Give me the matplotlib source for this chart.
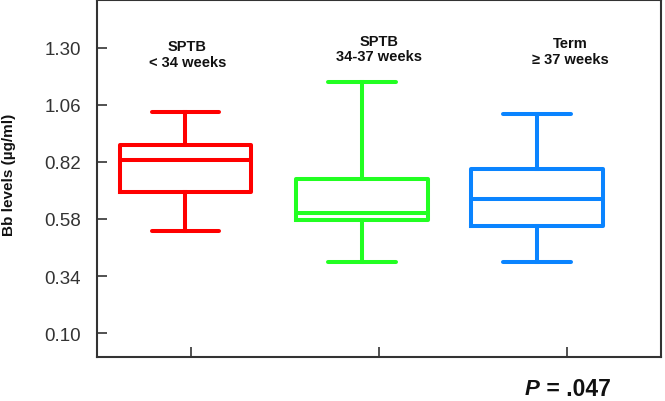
import matplotlib
matplotlib.use("Agg")
import matplotlib.pyplot as plt

plt.rcParams["font.family"] = ["Liberation Sans", "DejaVu Sans"]

# box statistics (ug/ml)
groups = ["SPTB\n< 34 weeks", "SPTB\n34-37 weeks", "Term\n\u2265 37 weeks"]
whislo = [0.531, 0.400, 0.398]
q1 = [0.695, 0.577, 0.549]
med = [0.828, 0.605, 0.664]
q3 = [0.889, 0.746, 0.788]
whishi = [1.029, 1.156, 1.022]
colors = ["#ff0000", "#22ff22", "#0a84ff"]

yticks = [0.10, 0.34, 0.58, 0.82, 1.06, 1.30]
positions = [0.97, 1.91, 2.84]
label_x = [0.98, 2.0, 3.02]
label_y = [1.273, 1.296, 1.285]
p_text = ".047"

fig = plt.figure(figsize=(6.65, 4.02), dpi=100)
ax = fig.add_axes([0.1459, 0.1095, 0.848, 0.888])

stats = []
for i in range(len(groups)):
    stats.append({"whislo": whislo[i], "q1": q1[i], "med": med[i],
                  "q3": q3[i], "whishi": whishi[i], "fliers": []})

for i, s in enumerate(stats):
    c = colors[i]
    ax.bxp([s], positions=[positions[i]], widths=0.70, capwidths=0.36,
           showfliers=False,
           boxprops=dict(color=c, linewidth=2.9, solid_joinstyle="round"),
           medianprops=dict(color=c, linewidth=2.9, solid_capstyle="butt"),
           whiskerprops=dict(color=c, linewidth=2.9),
           capprops=dict(color=c, linewidth=2.9, solid_capstyle="round"))
    ax.text(label_x[i], label_y[i], groups[i], ha="center", va="center",
            fontsize=10.5, fontweight="bold", linespacing=1.15, color="#111111")

ax.set_xlim(0.5, 3.5)
ax.set_ylim(0.0, 1.5)
ax.set_yticks(yticks)
ax.set_yticklabels(["%.2f" % v for v in yticks])
ax.set_xticks([1, 2, 3])
ax.set_xticklabels([])
ax.tick_params(axis="y", direction="in", length=7, width=1.2, pad=11.5,
               labelsize=13.5, labelcolor="#333333", color="#333333")
ax.tick_params(axis="x", direction="in", length=7, width=1.2, color="#333333")
for sp in ax.spines.values():
    sp.set_linewidth(1.5)
    sp.set_color("#333333")

fig.text(9 / 665, 0.565, "Bb levels (\u00b5g/ml)", rotation=90, ha="center",
         va="center", fontsize=11, fontweight="bold", color="#111111")

fig.text(0.812, 0.030, "P", ha="right", va="center", fontsize=16,
         fontweight="bold", style="italic", color="#111111")
fig.text(0.812, 0.030, " = " + p_text, ha="left", va="center", fontsize=16.5,
         fontweight="bold", color="#111111")

fig.savefig("out.png", dpi=100)
